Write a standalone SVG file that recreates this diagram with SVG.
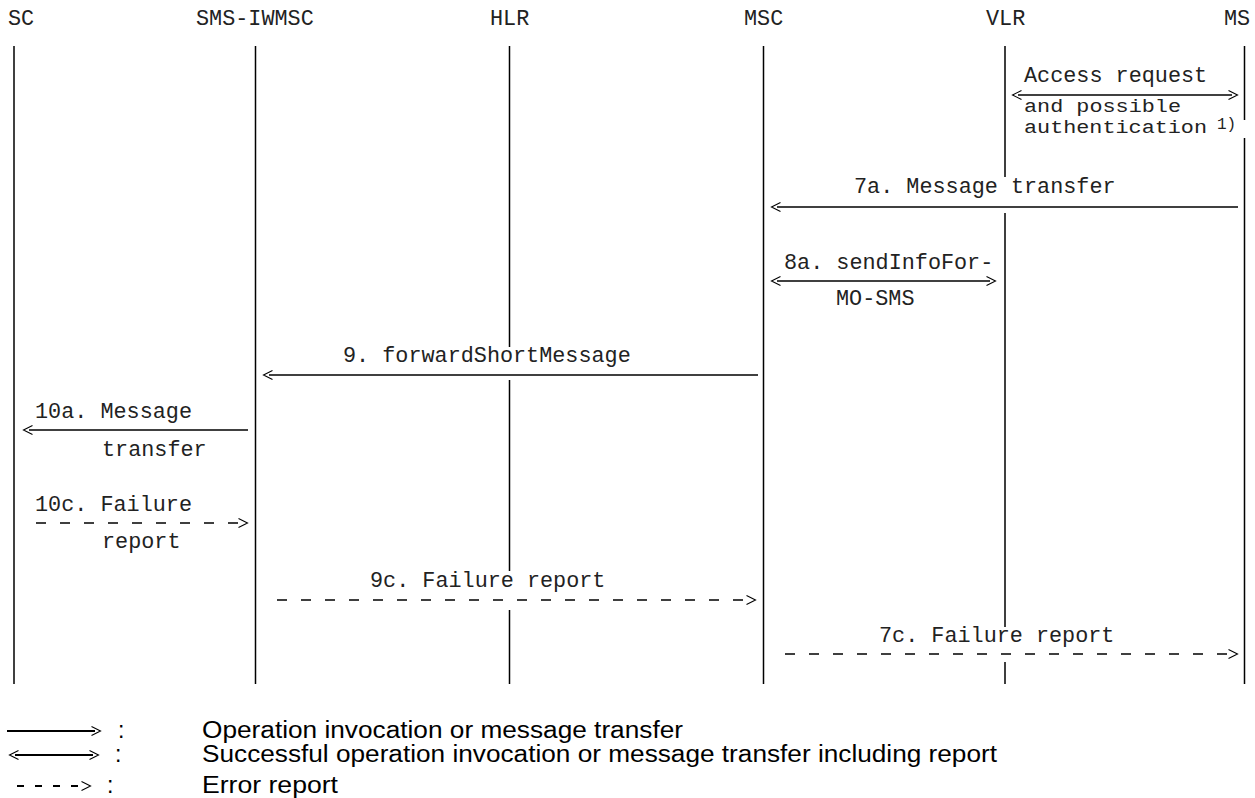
<svg xmlns="http://www.w3.org/2000/svg" width="1255" height="798" viewBox="0 0 1255 798">
<style>
.mono{font-family:"Liberation Mono","Courier New",monospace;font-size:21.8px;fill:#222}
.small{font-family:"Liberation Mono","Courier New",monospace;font-size:18px;fill:#222}
.sup{font-family:"Liberation Mono","Courier New",monospace;font-size:16px;fill:#222}
.life{stroke:#000;stroke-width:1.5;fill:none}
.msg{stroke:#000;stroke-width:1.3;fill:none}
.dash{stroke:#000;stroke-width:1.3;fill:none;stroke-dasharray:10 14}
.sans{font-family:"Liberation Sans",Arial,sans-serif;font-size:23px;fill:#000}
</style>
<defs>
<marker id="ah" viewBox="0 0 11 11" markerWidth="11" markerHeight="11" refX="4" refY="5.5" orient="auto-start-reverse" markerUnits="userSpaceOnUse">
<path d="M0.5,1 L9.5,5.5 L0.5,10" fill="none" stroke="#000" stroke-width="1.1"/>
</marker>
</defs>
<rect width="1255" height="798" fill="#fff"/>
<g id="node-sc">
<text class="mono" x="8" y="25">SC</text>
<line class="life" x1="14" y1="46" x2="14" y2="684"/>
</g>
<g id="node-sms-iwmsc">
<text class="mono" x="196" y="25">SMS-IWMSC</text>
<line class="life" x1="255.5" y1="46" x2="255.5" y2="684"/>
</g>
<g id="node-hlr">
<text class="mono" x="490" y="25">HLR</text>
<path class="life" d="M509.5,46 V347 M509.5,380 V571 M509.5,610 V684"/>
</g>
<g id="node-msc">
<text class="mono" x="744" y="25">MSC</text>
<line class="life" x1="763.5" y1="46" x2="763.5" y2="684"/>
</g>
<g id="node-vlr">
<text class="mono" x="986" y="25">VLR</text>
<path class="life" d="M1005,46 V177 M1005,213 V627 M1005,662 V684"/>
</g>
<g id="node-ms">
<text class="mono" x="1224" y="25">MS</text>
<path class="life" d="M1244.5,46 V120 M1244.5,138 V684"/>
</g>
<g id="connectors">
<text class="mono" x="1024" y="82">Access request</text>
<line class="msg" x1="1018" y1="95" x2="1232" y2="95" marker-start="url(#ah)" marker-end="url(#ah)"/>
<text class="small" x="1024" y="112" textLength="157" lengthAdjust="spacingAndGlyphs">and possible</text>
<text class="small" x="1024" y="133" textLength="183" lengthAdjust="spacingAndGlyphs">authentication</text>
<text class="sup" x="1217" y="129">1)</text>

<text class="mono" x="854" y="193">7a. Message transfer</text>
<line class="msg" x1="777" y1="207" x2="1238" y2="207" marker-start="url(#ah)"/>

<text class="mono" x="784" y="269">8a. sendInfoFor-</text>
<line class="msg" x1="777" y1="281" x2="990" y2="281" marker-start="url(#ah)" marker-end="url(#ah)"/>
<text class="mono" x="836" y="305">MO-SMS</text>

<text class="mono" x="343" y="362">9. forwardShortMessage</text>
<line class="msg" x1="269" y1="375" x2="758" y2="375" marker-start="url(#ah)"/>

<text class="mono" x="35" y="418">10a. Message</text>
<line class="msg" x1="29" y1="430" x2="248" y2="430" marker-start="url(#ah)"/>
<text class="mono" x="102" y="456">transfer</text>

<text class="mono" x="35" y="511">10c. Failure</text>
<line class="dash" x1="36" y1="523" x2="242" y2="523" marker-end="url(#ah)"/>
<text class="mono" x="102" y="548">report</text>

<text class="mono" x="370" y="587">9c. Failure report</text>
<line class="dash" x1="277" y1="600" x2="750" y2="600" marker-end="url(#ah)"/>

<text class="mono" x="879" y="642">7c. Failure report</text>
<line class="dash" x1="785" y1="654" x2="1232" y2="654" marker-end="url(#ah)"/>
</g>
<g id="legend">
<line x1="7" y1="731" x2="95" y2="731" stroke="#000" stroke-width="1.8" marker-end="url(#ah)"/>
<text class="sans" x="118" y="738">:</text>
<text class="sans" x="202" y="738" textLength="481" lengthAdjust="spacingAndGlyphs">Operation invocation or message transfer</text>
<line x1="15" y1="755" x2="93" y2="755" stroke="#000" stroke-width="1.8" marker-start="url(#ah)" marker-end="url(#ah)"/>
<text class="sans" x="115" y="762">:</text>
<text class="sans" x="202" y="762" textLength="795" lengthAdjust="spacingAndGlyphs">Successful operation invocation or message transfer including report</text>
<line x1="17" y1="786" x2="85" y2="786" stroke="#000" stroke-width="1.8" stroke-dasharray="7 11" marker-end="url(#ah)"/>
<text class="sans" x="107" y="793">:</text>
<text class="sans" x="202" y="793" textLength="136" lengthAdjust="spacingAndGlyphs">Error report</text>
</g>
</svg>
